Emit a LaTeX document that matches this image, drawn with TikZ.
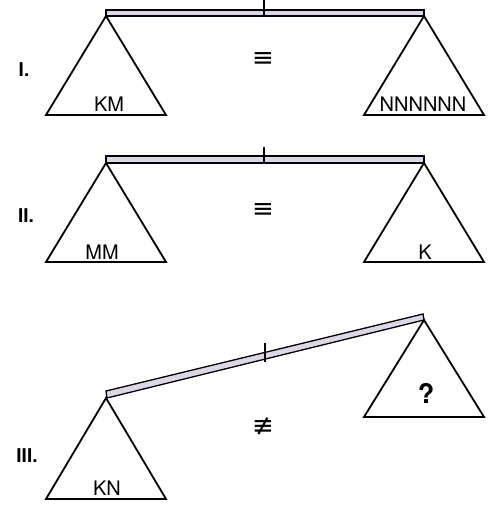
\documentclass[tikz,border=0pt]{standalone}
\usepackage{fontspec}
\setmainfont{TeX Gyre Heros}
\newfontfamily\symfont{DejaVu Sans}
\definecolor{beamfill}{HTML}{DDD6E6}
\tikzset{
  pan/.style={draw=black, line width=1.8pt, line join=miter},
  beam/.style={draw=black, fill=beamfill, line width=1.3pt},
  tick/.style={draw=black, line width=1.5pt},
  lbl/.style={font=\fontsize{20}{20}\selectfont, inner sep=0pt, anchor=base},
  num/.style={font=\bfseries\fontsize{19}{19}\selectfont, inner sep=0pt},
  rel/.style={font=\symfont\fontsize{26}{26}\selectfont, inner sep=0pt}
}
\begin{document}
\begin{tikzpicture}[x=1pt,y=-1pt]
\useasboundingbox (0,0) rectangle (489,505);
% ---------- Scale I ----------
\coordinate (a1) at (106,16);
\coordinate (b1) at (424,16);
\draw[beam] (106,10) rectangle (424,16);
\draw[tick] (264,0) -- (264,15);
\draw[pan] (a1) -- (46,115) -- (166,115) -- cycle;
\draw[pan] (b1) -- (364,115) -- (484,115) -- cycle;
\node[lbl] (km) at (109,112) {KM};
\node[lbl] (nn) at (423,112) {NNNNNN};
\node[num] (r1) at (24,70) {I.};
\node[rel] (e1) at (263,60) {≡};
% ---------- Scale II ----------
\coordinate (a2) at (106,163);
\coordinate (b2) at (424,163);
\draw[beam] (106,156) rectangle (424,163);
\draw[tick] (264,147) -- (264,162);
\draw[pan] (a2) -- (46,262) -- (166,262) -- cycle;
\draw[pan] (b2) -- (364,262) -- (484,262) -- cycle;
\node[lbl] (mm) at (102,259) {MM};
\node[lbl] (k) at (425,259) {K};
\node[num] (r2) at (26,216) {II.};
\node[rel] (e2) at (263,211) {≡};
% ---------- Scale III ----------
\coordinate (a3) at (106,398);
\coordinate (b3) at (424,320);
\draw[beam] (106,391) -- (423,314) -- (424,320) -- (107,398) -- cycle;
\draw[tick] (265,343) -- (265,362);
\draw[pan] (a3) -- (46,499) -- (166,499) -- cycle;
\draw[pan] (b3) -- (364,417) -- (484,417) -- cycle;
\node[lbl] (kn) at (107,495) {KN};
\node[lbl, font=\bfseries\fontsize{27}{27}\selectfont] (q) at (426,403) {?};
\node[num] (r3) at (27,456) {III.};
\node[rel] (e3) at (263,426) {≢};
\end{tikzpicture}
\end{document}
